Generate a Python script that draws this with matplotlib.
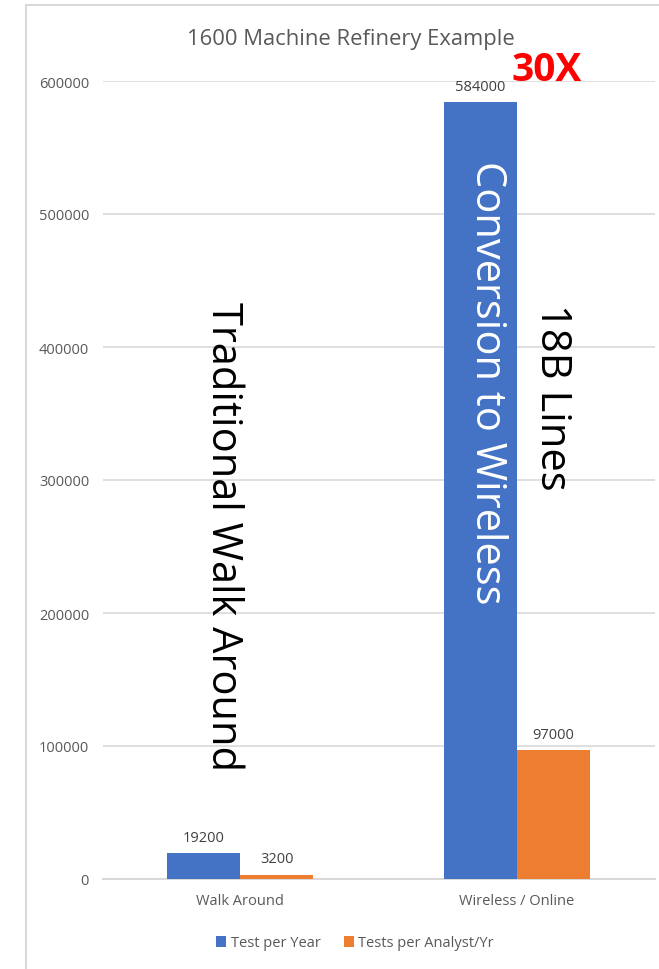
import matplotlib
matplotlib.use('Agg')
import matplotlib.pyplot as plt
import numpy as np
from matplotlib.patches import Rectangle

plt.rcParams['font.family'] = ['Open Sans', 'DejaVu Sans']

categories = ['Walk Around', 'Wireless / Online']
tests_per_year = [19200, 584000]
tests_per_analyst = [3200, 97000]
series_names = ['Test per Year', 'Tests per Analyst/Yr']

blue = '#4472C4'
orange = '#ED7D31'
grey_txt = '#595959'

fig = plt.figure(figsize=(6.59, 9.70), dpi=100)
ax = fig.add_axes([103 / 659, 1 - 880 / 970, 552 / 659, 798 / 970])

# chart frame (light grey border at left/top)
fig.patches.append(Rectangle((26 / 659, -0.01), 1.0, 1 - 6 / 970 + 0.01,
                             transform=fig.transFigure, fill=False,
                             edgecolor='#D9D9D9', linewidth=1.5))

x = np.arange(len(categories))
w = 0.264
b1 = ax.bar(x - w / 2, tests_per_year, w, color=blue, label=series_names[0], zorder=3)
b2 = ax.bar(x + w / 2, tests_per_analyst, w, color=orange, label=series_names[1], zorder=3)

for bars in (b1, b2):
    for r in bars:
        ax.annotate(f'{int(r.get_height())}', (r.get_x() + r.get_width() / 2, r.get_height()),
                    xytext=(0, 6), textcoords='offset points', ha='center', va='bottom',
                    fontsize=10.5, color='#404040')

ax.set_ylim(0, 600000)
ax.set_xlim(-0.495, 1.498)
ax.set_yticks(np.arange(0, 600001, 100000))
ax.set_xticks(x)
ax.set_xticklabels(categories)
ax.tick_params(axis='both', length=0, labelsize=10.5, colors=grey_txt)
ax.tick_params(axis='x', pad=10)
ax.tick_params(axis='y', pad=10)
ax.grid(axis='y', color='#D9D9D9', linewidth=1.2, zorder=0)
for s in ['top', 'right', 'left']:
    ax.spines[s].set_visible(False)
ax.spines['bottom'].set_color('#D9D9D9')
ax.spines['bottom'].set_linewidth(1.5)

fig.text(351 / 659, 1 - 40 / 970, '1600 Machine Refinery Example', ha='center', va='center',
         fontsize=15.8, color=grey_txt)

# annotations
ax.text(-0.06, 258000, 'Traditional Walk Around', rotation=-90, ha='center', va='center',
        fontsize=30, color='black')
ax.text(1 - 0.108, 374000, 'Conversion to Wireless', rotation=-90, ha='center', va='center',
        fontsize=30, color='white')
ax.text(1 + 0.127, 363000, '18B Lines', rotation=-90, ha='center', va='center',
        fontsize=30, color='black')
ax.text(1 + 0.105, 609000, '30X', ha='center', va='center', fontsize=28,
        fontweight='bold', color='red')

fig.legend(loc='center', bbox_to_anchor=(355 / 659, 1 - 944 / 970), ncol=2, frameon=False,
           fontsize=10.5, handlelength=0.7, handleheight=0.7, handletextpad=0.3,
           columnspacing=1.6, labelcolor=grey_txt)

fig.savefig('out.png', dpi=100)
